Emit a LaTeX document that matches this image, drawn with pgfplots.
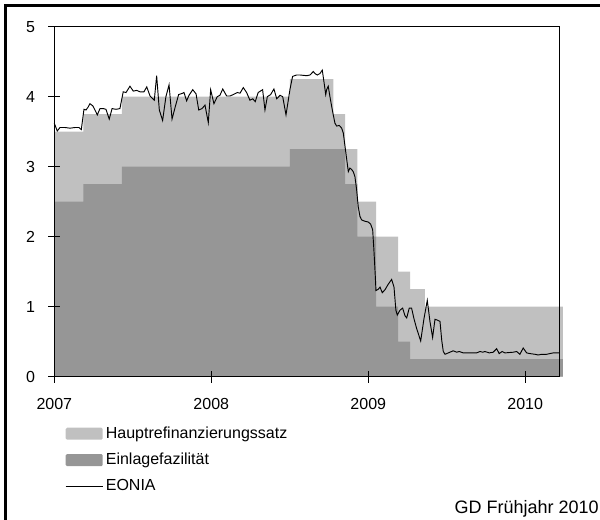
\documentclass[border=0pt]{standalone}
\usepackage{fontspec}
\setmainfont{Liberation Sans}
\usepackage{pgfplots}
\pgfplotsset{compat=1.18}
\definecolor{mro}{HTML}{C0C0C0}
\definecolor{dep}{HTML}{969696}
\pgfplotsset{
  boxleg/.style={legend image code/.code={\fill[##1, rounded corners=1pt] (0pt,-4.5pt) rectangle (27.75pt,4.5pt);}},
  lineleg/.style={legend image code/.code={\draw[##1] (0pt,0pt) -- (27.75pt,0pt);}},
}

\begin{document}
\begin{tikzpicture}[font=\fontsize{12}{14}\selectfont]
\begin{scope}[x=0.75pt,y=0.75pt]
\useasboundingbox (0,0) rectangle (600,520);
\draw[line width=1.8pt] (5.5,-20) -- (5.5,514.5) -- (620,514.5);
\node[anchor=base east, inner sep=0pt, font=\fontsize{13.5}{16}\selectfont] at (599,6.7) {GD Frühjahr 2010};
\end{scope}
\begin{axis}[at={(40.725pt,107.475pt)}, anchor=south west, scale only axis,
  width=378.75pt, height=262.5pt,
  xmin=2007, xmax=2010.217, ymin=0, ymax=5,
  xtick={2007,2008,2009,2010}, xticklabels={2007,2008,2009,2010},
  ytick={0,1,2,3,4,5},
  tick pos=left, tick align=center, major tick length=9pt,
  tick style={black, line width=0.75pt},
  axis line style={line width=0.9pt},
  xticklabel style={yshift=-8.5pt},
  yticklabel style={xshift=-6.5pt},
  axis on top, clip=false,
  /pgf/number format/assume math mode=true,
  legend style={at={(0.0212,-0.1352)}, anchor=north west, draw=none, fill=none,
    inner sep=0pt, row sep=5.6pt, cells={anchor=west}},
  legend cell align=left,
]
\addplot[const plot, fill=mro, draw=none, boxleg]
  coordinates {(2007.000,3.50) (2007.185,3.75) (2007.43,4.00) (2008.50,4.25) (2008.777,3.75)
  (2008.853,3.25) (2008.93,2.50) (2009.05,2.00) (2009.19,1.50) (2009.266,1.25) (2009.36,1.00)
  (2010.24,1.00)} \closedcycle;
\addlegendentry{Hauptrefinanzierungssatz}
\addplot[const plot, fill=dep, draw=none, boxleg]
  coordinates {(2007.000,2.50) (2007.185,2.75) (2007.43,3.00) (2008.50,3.25) (2008.853,2.75)
  (2008.93,2.00) (2009.05,1.00) (2009.19,0.50) (2009.266,0.25) (2010.24,0.25)} \closedcycle;
\addlegendentry{Einlagefazilität}
\addplot[black, line width=0.7pt, mark=none, lineleg]
  coordinates {
  (2007.000,3.62) (2007.019,3.51) (2007.036,3.56) (2007.068,3.56) (2007.100,3.55)
  (2007.132,3.56) (2007.157,3.56) (2007.172,3.53) (2007.189,3.82) (2007.202,3.81)
  (2007.215,3.85) (2007.227,3.90) (2007.245,3.87) (2007.259,3.81) (2007.274,3.74)
  (2007.291,3.83) (2007.312,3.83) (2007.329,3.82) (2007.350,3.68) (2007.368,3.83)
  (2007.393,3.82) (2007.418,3.83) (2007.439,4.07) (2007.457,4.06) (2007.482,4.15)
  (2007.503,4.08) (2007.525,4.09) (2007.546,4.07) (2007.571,4.07) (2007.589,4.14)
  (2007.610,4.01) (2007.637,3.95) (2007.652,4.30) (2007.669,3.81) (2007.690,3.66)
  (2007.711,4.00) (2007.731,4.17) (2007.750,3.68) (2007.771,3.86) (2007.792,4.03)
  (2007.818,4.05) (2007.826,4.06) (2007.843,3.94) (2007.858,4.02) (2007.882,4.10)
  (2007.903,4.04) (2007.920,3.81) (2007.941,3.83) (2007.960,3.88) (2007.981,3.63)
  (2007.996,4.10) (2008.017,3.90) (2008.038,4.00) (2008.055,4.02) (2008.073,4.11)
  (2008.098,4.01) (2008.119,4.01) (2008.140,4.03) (2008.166,4.06) (2008.183,4.05)
  (2008.204,4.13) (2008.225,4.06) (2008.246,3.95) (2008.264,3.97) (2008.280,3.93)
  (2008.299,4.06) (2008.327,4.10) (2008.342,3.81) (2008.357,4.00) (2008.378,4.03)
  (2008.399,4.11) (2008.417,3.97) (2008.438,4.02) (2008.455,4.00) (2008.476,3.74)
  (2008.501,4.10) (2008.518,4.29) (2008.544,4.31) (2008.565,4.31) (2008.608,4.30)
  (2008.629,4.31) (2008.650,4.36) (2008.661,4.33) (2008.675,4.31) (2008.692,4.33)
  (2008.707,4.38) (2008.718,4.21) (2008.729,4.03) (2008.735,4.10) (2008.745,4.15)
  (2008.756,4.00) (2008.767,3.86) (2008.777,3.74) (2008.788,3.62) (2008.799,3.58)
  (2008.815,3.59) (2008.831,3.55) (2008.841,3.48) (2008.852,3.29) (2008.863,3.10)
  (2008.873,2.93) (2008.883,2.98) (2008.894,2.96) (2008.904,2.93) (2008.915,2.86)
  (2008.926,2.67) (2008.936,2.43) (2008.947,2.29) (2008.958,2.24) (2008.979,2.22)
  (2009.000,2.21) (2009.015,2.18) (2009.028,2.10) (2009.036,1.81) (2009.045,1.43)
  (2009.049,1.23) (2009.064,1.25) (2009.075,1.28) (2009.089,1.20) (2009.106,1.24)
  (2009.127,1.32) (2009.149,1.39) (2009.164,1.28) (2009.176,0.95) (2009.185,0.88)
  (2009.202,0.95) (2009.219,0.98) (2009.234,0.87) (2009.245,0.84) (2009.261,0.98)
  (2009.276,0.98) (2009.291,0.83) (2009.308,0.69) (2009.334,0.51) (2009.355,0.83)
  (2009.376,1.09) (2009.393,0.79) (2009.410,0.56) (2009.425,0.82) (2009.439,0.81)
  (2009.457,0.79) (2009.468,0.52) (2009.478,0.36) (2009.489,0.32) (2009.510,0.34)
  (2009.531,0.36) (2009.541,0.37) (2009.563,0.35) (2009.580,0.36) (2009.605,0.34)
  (2009.648,0.34) (2009.690,0.34) (2009.712,0.36) (2009.729,0.35) (2009.743,0.36)
  (2009.771,0.34) (2009.796,0.35) (2009.818,0.40) (2009.834,0.33) (2009.853,0.36)
  (2009.871,0.34) (2009.924,0.35) (2009.945,0.36) (2009.966,0.32) (2009.987,0.41)
  (2010.009,0.34) (2010.030,0.33) (2010.062,0.32) (2010.083,0.31) (2010.104,0.32)
  (2010.136,0.32) (2010.157,0.33) (2010.178,0.34) (2010.217,0.34)};
\addlegendentry{EONIA}
\end{axis}
\end{tikzpicture}
\end{document}
